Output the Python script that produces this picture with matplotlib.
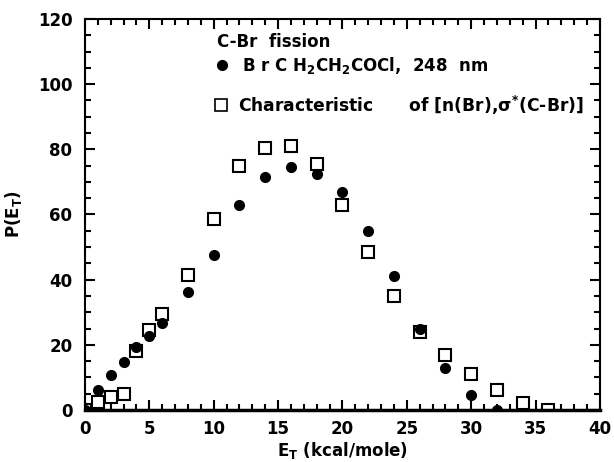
import matplotlib
matplotlib.use("Agg")
import matplotlib.pyplot as plt
from matplotlib.ticker import MultipleLocator

plt.rcParams['font.family'] = ['DejaVu Sans']
plt.rcParams['font.weight'] = 'bold'
plt.rcParams['mathtext.fontset'] = 'custom'
plt.rcParams['mathtext.rm'] = 'DejaVu Sans:bold'
plt.rcParams['mathtext.it'] = 'DejaVu Sans:bold'
plt.rcParams['mathtext.bf'] = 'DejaVu Sans:bold'
plt.rcParams['mathtext.sf'] = 'DejaVu Sans:bold'

# Experimental: BrCH2CH2COCl, 248 nm (filled circles)
exp_x = [0, 1, 2, 3, 4, 5, 6, 8, 10, 12, 14, 16, 18, 20, 22, 24, 26, 28, 30, 32]
exp_y = [0, 6.2, 10.8, 14.8, 19.2, 22.8, 26.8, 36.2, 47.5, 63, 71.5, 74.5, 72.5, 67, 55, 41, 25, 13, 4.5, 0]

# Characteristic of [n(Br), sigma*(C-Br)] (open squares)
chr_x = [0, 1, 2, 3, 4, 5, 6, 8, 10, 12, 14, 16, 18, 20, 22, 24, 26, 28, 30, 32, 34, 36]
chr_y = [0, 2.5, 4, 5, 18, 24.5, 29.5, 41.5, 58.5, 75, 80.5, 81, 75.5, 63, 48.5, 35, 24, 17, 11, 6, 2, 0]

fig = plt.figure(figsize=(6.14, 4.62), dpi=100)
ax = fig.add_axes([0.1384, 0.1126, 0.8386, 0.8463])

ax.plot(exp_x, exp_y, 'o', color='black', markersize=7, linestyle='none', zorder=3)
ax.plot(chr_x, chr_y, 's', markerfacecolor='white', markeredgecolor='black',
        markeredgewidth=1.5, markersize=9, linestyle='none', zorder=2)

ax.set_xlim(0, 40)
ax.set_ylim(0, 120)
ax.xaxis.set_major_locator(MultipleLocator(5))
ax.xaxis.set_minor_locator(MultipleLocator(1))
ax.yaxis.set_major_locator(MultipleLocator(20))
ax.yaxis.set_minor_locator(MultipleLocator(5))
ax.tick_params(which='both', direction='in', top=True, right=True, width=1.5)
ax.tick_params(which='major', length=7, labelsize=12)
ax.tick_params(axis='y', which='major', pad=9)
ax.tick_params(axis='x', which='major', pad=7)
ax.tick_params(which='minor', length=4)
for lab in ax.get_xticklabels() + ax.get_yticklabels():
    lab.set_fontweight('bold')
for sp in ax.spines.values():
    sp.set_linewidth(1.5)
ax.spines['bottom'].set_linewidth(2.5)

ax.set_xlabel(r'E$_{\mathrm{T}}$ (kcal/mole)', fontsize=12, fontweight='bold', labelpad=2)
ax.set_ylabel(r'P(E$_{\mathrm{T}}$)', fontsize=12, fontweight='bold', labelpad=10)

# in-plot legend
ax.text(10.25, 112.8, 'C-Br  fission', fontsize=12, fontweight='bold', va='center', ha='left')
ax.plot([10.65], [105.8], 'o', color='black', markersize=7, clip_on=False)
ax.text(12.2, 105.8, r'B r C H$_{\mathrm{2}}$CH$_{\mathrm{2}}$COCl,  248  nm', fontsize=12,
        fontweight='bold', va='center', ha='left')
ax.plot([10.55], [93.6], 's', markerfacecolor='white', markeredgecolor='black',
        markeredgewidth=1.2, markersize=8, clip_on=False)
ax.text(11.9, 93.6, r'Characteristic      of [n(Br),$\sigma^{*}$(C-Br)]', fontsize=12.3,
        fontweight='bold', va='center', ha='left')

fig.savefig('out.png', dpi=100)
